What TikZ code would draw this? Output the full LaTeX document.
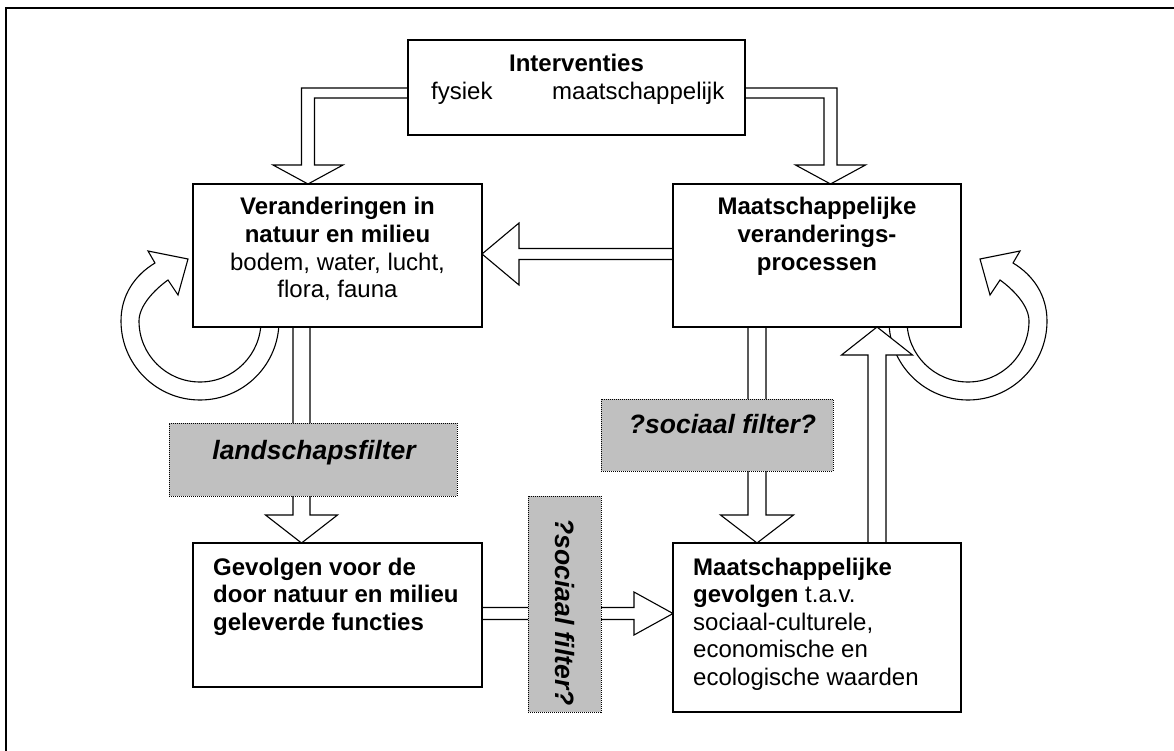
\documentclass[tikz,border=0pt]{standalone}
\usepackage{fontspec}
\setmainfont{Liberation Sans}
\usetikzlibrary{calc}
\definecolor{filtgray}{HTML}{C0C0C0}
\tikzset{
  box/.style={draw, line width=1.4pt, fill=white, inner sep=0pt, outer sep=0pt},
  filt/.style={draw, line width=1pt, dash pattern=on 1pt off 1pt, fill=filtgray, inner sep=0pt, outer sep=0pt},
  blk/.style={draw, fill=white, line width=1.1pt, line join=miter},
  txt/.style={inner sep=0pt, font=\fontsize{24}{27.6}\selectfont},
  ftxt/.style={inner sep=0pt, font=\fontsize{26.5}{30}\selectfont\bfseries\itshape},
}
% hollow block arrows: #1 start, #2 tip, #3 half shaft, #4 half head, #5 head length
\newcommand\arrDown[5]{\filldraw[blk] let \p1=(#1),\p2=(#2) in (\x1-#3,\y1) -- (\x1-#3,\y2+#5) -- (\x1-#4,\y2+#5) -- (\x1,\y2) -- (\x1+#4,\y2+#5) -- (\x1+#3,\y2+#5) -- (\x1+#3,\y1);}
\newcommand\arrUp[5]{\filldraw[blk] let \p1=(#1),\p2=(#2) in (\x1-#3,\y1) -- (\x1-#3,\y2-#5) -- (\x1-#4,\y2-#5) -- (\x1,\y2) -- (\x1+#4,\y2-#5) -- (\x1+#3,\y2-#5) -- (\x1+#3,\y1);}
\newcommand\arrLeft[5]{\filldraw[blk] let \p1=(#1),\p2=(#2) in (\x1,\y1+#3) -- (\x2+#5,\y1+#3) -- (\x2+#5,\y1+#4) -- (\x2,\y1) -- (\x2+#5,\y1-#4) -- (\x2+#5,\y1-#3) -- (\x1,\y1-#3);}
\newcommand\arrRight[5]{\filldraw[blk] let \p1=(#1),\p2=(#2) in (\x1,\y1+#3) -- (\x2-#5,\y1+#3) -- (\x2-#5,\y1+#4) -- (\x2,\y1) -- (\x2-#5,\y1-#4) -- (\x2-#5,\y1-#3) -- (\x1,\y1-#3);}
\newcommand\elbowL[2]{\filldraw[blk] let \p1=(#1),\p2=(#2) in (\x1,\y1+5) -- (\x2-6.5,\y1+5) -- (\x2-6.5,\y2+19) -- (\x2-35,\y2+19) -- (\p2) -- (\x2+35,\y2+19) -- (\x2+6.5,\y2+19) -- (\x2+6.5,\y1-5) -- (\x1,\y1-5);}
\newcommand\elbowR[2]{\filldraw[blk] let \p1=(#1),\p2=(#2) in (\x1,\y1+5) -- (\x2+6.5,\y1+5) -- (\x2+6.5,\y2+19) -- (\x2+35,\y2+19) -- (\p2) -- (\x2-35,\y2+19) -- (\x2-6.5,\y2+19) -- (\x2-6.5,\y1-5) -- (\x1,\y1-5);}
\newcommand\loopshape{\filldraw[blk] (79,0) arc[start angle=0,end angle=180,radius=79] .. controls (-79,-26) and (-65,-46) .. (-45,-58) -- (-52,-70) -- (-12,-62) -- (-22,-26) -- (-32,-41) .. controls (-46,-31) and (-61,-15) .. (-61,0) arc[start angle=180,end angle=0,radius=61] -- cycle;}
\begin{document}
\begin{tikzpicture}[x=1pt,y=-1pt]
\useasboundingbox (0,0) rectangle (1174,751);
% frame
\draw[line width=2pt] (6,751) -- (6,8) -- (1174,8);
% box positions (drawn later; define first with path only)
\path
  (576.5,87.5) node[minimum width=337pt, minimum height=95pt, inner sep=0pt, outer sep=0pt] (iv) {}
  (337.5,255.5) node[minimum width=289pt, minimum height=143pt, inner sep=0pt, outer sep=0pt] (lb) {}
  (817,255.5) node[minimum width=288pt, minimum height=143pt, inner sep=0pt, outer sep=0pt] (rb) {}
  (337.5,615) node[minimum width=289pt, minimum height=144pt, inner sep=0pt, outer sep=0pt] (gv) {}
  (817,627.5) node[minimum width=288pt, minimum height=169pt, inner sep=0pt, outer sep=0pt] (mg) {};
\coordinate (c1) at ($(lb.south west)+(7,-6)$);
\coordinate (c2) at ($(rb.south east)+(7,-6)$);
% self loops
\begin{scope}[shift={(c1)}]\loopshape\end{scope}
\begin{scope}[shift={(c2)}, xscale=-1]\loopshape\end{scope}
% arrows
\elbowL{$(iv.west)+(0,5.5)$}{$(lb.north west)+(115,0)$}
\elbowR{$(iv.east)+(0,5.5)$}{$(rb.north west)+(157.5,0)$}
\arrLeft{$(rb.west)+(0,-1.5)$}{$(lb.east)+(0,-1.5)$}{5.5}{31}{37}
\arrDown{$(lb.south west)+(108.5,0)$}{gv.north}{8.5}{36}{28}
\arrDown{$(rb.south west)+(84,0)$}{mg.north}{9}{36.5}{28}
\arrUp{$(mg.north west)+(204,0)$}{rb.south}{9}{35.5}{28}
\arrRight{$(gv.east)+(0,-1.5)$}{mg.west}{6}{21.5}{39}
% boxes
\node[box, minimum width=337pt, minimum height=95pt] at (iv) {};
\node[box, minimum width=289pt, minimum height=143pt] at (lb) {};
\node[box, minimum width=288pt, minimum height=143pt] at (rb) {};
\node[box, minimum width=289pt, minimum height=144pt] at (gv) {};
\node[box, minimum width=288pt, minimum height=169pt] at (mg) {};
% filters
\node[filt, minimum width=288pt, minimum height=73pt] (lf) at (313,459.5) {};
\node[filt, minimum width=232pt, minimum height=72pt] (sf1) at (717,435) {};
\node[filt, minimum width=73pt, minimum height=216pt] (sf2) at (564.5,604) {};
% texts (base anchor = baseline of last line)
\node[txt, anchor=base] (ivt) at (576.5,72) {\textbf{Interventies}};
\node[txt, anchor=base west] (ivf) at (431,100) {fysiek};
\node[txt, anchor=base west] (ivm) at (552,100) {maatschappelijk};
\node[txt, anchor=base, align=center] (lbt) at (337.5,297.8) {\textbf{Veranderingen in}\\\textbf{natuur en milieu}\\bodem, water, lucht,\\flora, fauna};
\node[txt, anchor=base, align=center] (rbt) at (817,270.2) {\textbf{Maatschappelijke}\\\textbf{veranderings-}\\\textbf{processen}};
\node[txt, anchor=base west, align=left] (gvt) at (213,630.2) {\textbf{Gevolgen voor de}\\\textbf{door natuur en milieu}\\\textbf{geleverde functies}};
\node[txt, anchor=base west, align=left] (mgt) at (693,685.4) {\textbf{Maatschappelijke}\\\textbf{gevolgen} t.a.v.\\sociaal-culturele,\\economische en\\ecologische waarden};
\node[ftxt, anchor=base] (lft) at (314,459) {landschapsfilter};
\node[ftxt, anchor=base] (sf1t) at (722.5,433) {?sociaal filter?};
\node[ftxt, rotate=-90] (sf2t) at (564.5,612) {?sociaal filter?};
\end{tikzpicture}
\end{document}
